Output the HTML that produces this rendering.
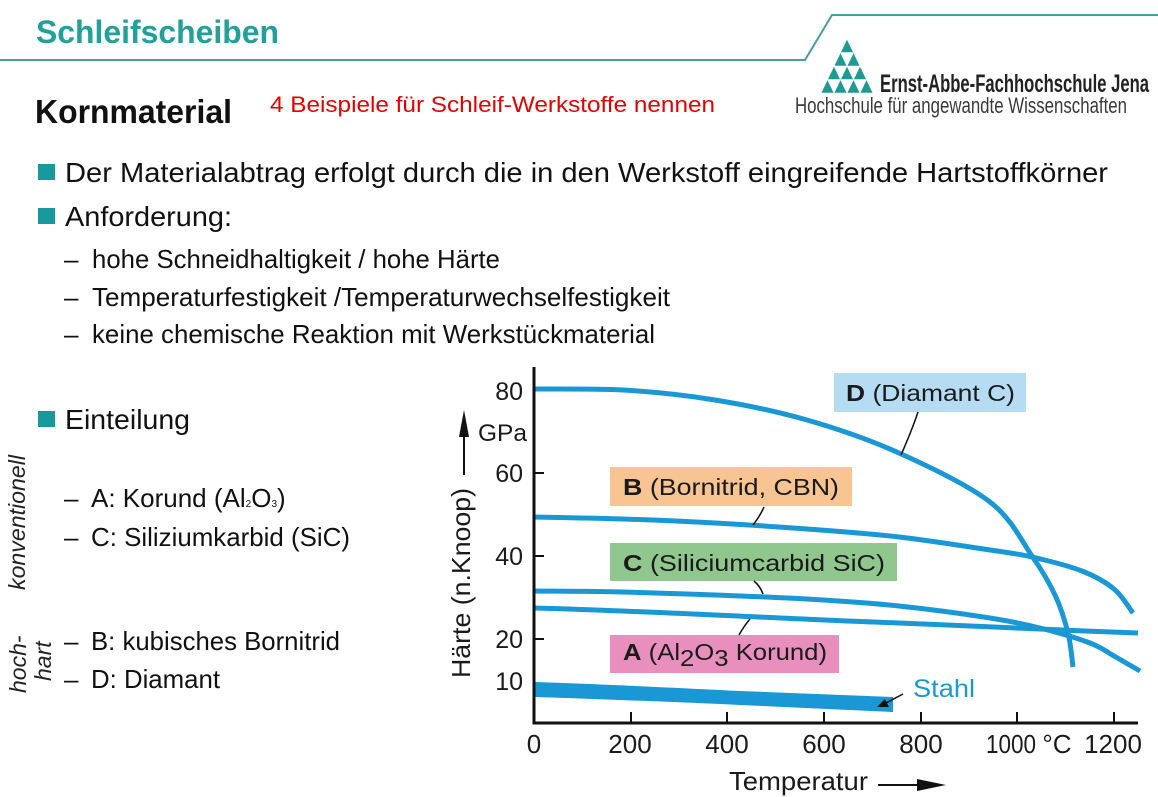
<!DOCTYPE html>
<html>
<head>
<meta charset="utf-8">
<style>
  html, body { margin: 0; padding: 0; background: #ffffff; }
  svg { display: block; }
  text { font-family: "Liberation Sans", Arial, sans-serif; }
</style>
</head>
<body>
<svg width="1158" height="797" viewBox="0 0 1158 797" xmlns="http://www.w3.org/2000/svg">
  <rect x="0" y="0" width="1158" height="797" fill="#ffffff"/>

  <!-- Header -->
  <text x="36" y="43" font-size="32" font-weight="bold" fill="#23a09a" textLength="243" lengthAdjust="spacingAndGlyphs">Schleifscheiben</text>
  <polyline points="0,60 805,60 832,15 1158,15" fill="none" stroke="#4a9e9a" stroke-width="2"/>

  <!-- Logo -->
  <g fill="#1e9a92" stroke="#ffffff" stroke-width="0.6" stroke-linejoin="miter">
    <polygon points="840.5,52.5 853.5,52.5 847,39"/>
    <polygon points="834,66 847,66 840.5,52.5"/>
    <polygon points="847,66 860,66 853.5,52.5"/>
    <polygon points="827.5,79.5 840.5,79.5 834,66"/>
    <polygon points="840.5,79.5 853.5,79.5 847,66"/>
    <polygon points="853.5,79.5 866.5,79.5 860,66"/>
    <polygon points="821,93 834,93 827.5,79.5"/>
    <polygon points="834,93 847,93 840.5,79.5"/>
    <polygon points="847,93 860,93 853.5,79.5"/>
    <polygon points="860,93 873,93 866.5,79.5"/>
  </g>
  <text x="880" y="92" font-size="25" font-weight="bold" fill="#222" textLength="269" lengthAdjust="spacingAndGlyphs">Ernst-Abbe-Fachhochschule Jena</text>
  <text x="795" y="113" font-size="22" fill="#3a3a3a" textLength="332" lengthAdjust="spacingAndGlyphs">Hochschule für angewandte Wissenschaften</text>

  <!-- Subtitle -->
  <text x="35" y="123" font-size="33" font-weight="bold" fill="#111" textLength="197" lengthAdjust="spacingAndGlyphs">Kornmaterial</text>
  <text x="270" y="112" font-size="22" fill="#e00000" textLength="445" lengthAdjust="spacingAndGlyphs">4 Beispiele für Schleif-Werkstoffe nennen</text>

  <!-- Bullets -->
  <g fill="#17989e">
    <rect x="38" y="164" width="17" height="16"/>
    <rect x="38" y="208" width="17" height="16"/>
    <rect x="38" y="411" width="17" height="16"/>
  </g>
  <g fill="#111">
    <text x="65" y="182" font-size="28" textLength="1043" lengthAdjust="spacingAndGlyphs">Der Materialabtrag erfolgt durch die in den Werkstoff eingreifende Hartstoffkörner</text>
    <text x="65" y="226" font-size="28" textLength="167" lengthAdjust="spacingAndGlyphs">Anforderung:</text>

    <text x="64" y="268" font-size="26">–</text>
    <text x="92" y="268" font-size="26" textLength="408" lengthAdjust="spacingAndGlyphs">hohe Schneidhaltigkeit / hohe Härte</text>
    <text x="64" y="306" font-size="26">–</text>
    <text x="92" y="306" font-size="26" textLength="578" lengthAdjust="spacingAndGlyphs">Temperaturfestigkeit /Temperaturwechselfestigkeit</text>
    <text x="64" y="343" font-size="26">–</text>
    <text x="92" y="343" font-size="26" textLength="563" lengthAdjust="spacingAndGlyphs">keine chemische Reaktion mit Werkstückmaterial</text>

    <text x="65" y="429" font-size="28" textLength="125" lengthAdjust="spacingAndGlyphs">Einteilung</text>

    <text x="64" y="507" font-size="26">–</text>
    <text x="91" y="507" font-size="26">A: Korund (Al<tspan font-size="10">2</tspan>O<tspan font-size="10">3</tspan>)</text>
    <text x="64" y="546" font-size="26">–</text>
    <text x="91" y="546" font-size="26" textLength="259" lengthAdjust="spacingAndGlyphs">C: Siliziumkarbid (SiC)</text>
    <text x="64" y="650" font-size="26">–</text>
    <text x="91" y="650" font-size="26" textLength="249" lengthAdjust="spacingAndGlyphs">B: kubisches Bornitrid</text>
    <text x="64" y="688" font-size="26">–</text>
    <text x="91" y="688" font-size="26" textLength="129" lengthAdjust="spacingAndGlyphs">D: Diamant</text>
  </g>

  <!-- Rotated side labels -->
  <g fill="#222" font-style="italic" font-size="23">
    <text transform="translate(25,590) rotate(-90)" textLength="135" lengthAdjust="spacingAndGlyphs">konventionell</text>
    <text transform="translate(26,693) rotate(-90)">hoch-</text>
    <text transform="translate(51,681) rotate(-90)">hart</text>
  </g>

  <!-- ===== Chart ===== -->
  <!-- label boxes -->
  <rect x="834" y="373" width="192" height="39" fill="#b5dcf2"/>
  <rect x="610" y="467" width="242" height="39" fill="#f8c492"/>
  <rect x="610" y="543" width="287" height="38" fill="#90c78e"/>
  <rect x="610" y="635" width="229" height="38" fill="#e88fbd"/>

  <!-- Stahl band -->
  <path d="M534,682 C600,684 700,689 740,691 L893,697 L893,712 L740,705 C700,703 600,699 534,697 Z" fill="#1a98d5"/>

  <!-- curves -->
  <g fill="none" stroke="#1a98d5" stroke-width="5" stroke-linejoin="round" stroke-linecap="butt">
    <!-- D -->
    <path d="M534,389 C548.8,389.2 592.8,388.6 623,390 C653.2,391.8 684.3,395 715,400 C745.7,405 776.3,411.2 807,420 C837.7,428.8 868.5,439.3 899,453 C929.5,466.7 967.8,484.8 990,502 C1012.2,519.2 1021.2,540.5 1032,556 C1042.8,571.5 1049,582.2 1055,595 C1061,607.8 1065,621 1068,633 C1071,645 1072.2,661.3 1073,667"/>
    <!-- B -->
    <path d="M534,517 C548.8,517.3 592.8,518 623,519 C653.2,520 684.3,521.3 715,523 C745.7,524.7 776.3,526.7 807,529 C837.7,531.3 868.5,533.5 899,537 C929.5,540.5 967.8,546.7 990,550 C1012.2,553.3 1016.7,553.5 1032,557 C1047.3,560.5 1068.3,565.7 1082,571 C1095.7,576.3 1105.5,582 1114,589 C1122.5,596 1129.8,609 1133,613"/>
    <!-- C -->
    <path d="M534,591 C548.8,591.2 592.8,591.3 623,592 C653.2,592.7 684.3,593.8 715,595 C745.7,596.2 776.3,597.2 807,599 C837.7,600.8 868.5,602.8 899,606 C929.5,609.2 966.5,614.3 990,618 C1013.5,621.7 1023.3,623.8 1040,628 C1056.7,632.2 1077.7,638.3 1090,643 C1102.3,647.7 1105.7,651.3 1114,656 C1122.3,660.7 1135.7,668.5 1140,671"/>
    <!-- A -->
    <path d="M534,608 C580,609 670,613 715,615 C760,617 850,621.5 899,623 C950,625 1010,628 1040,629 C1070,630.5 1110,632 1138,633"/>
  </g>

  <!-- leader lines -->
  <g fill="none" stroke="#111" stroke-width="1.5">
    <path d="M918,412 Q912,430 901,455"/>
    <path d="M764,507 Q760,516 753,525"/>
    <path d="M754,581 Q760,586 763,594"/>
    <path d="M739,635 Q744,626 750,619"/>
    <line x1="903" y1="694" x2="884" y2="704"/>
  </g>
  <polygon points="877,707 885,699 889,707" fill="#111"/>

  <!-- axes -->
  <line x1="534" y1="367" x2="534" y2="724.5" stroke="#111" stroke-width="3"/>
  <line x1="532.5" y1="723" x2="1138" y2="723" stroke="#111" stroke-width="3"/>
  <g stroke="#111" stroke-width="2">
    <line x1="535" y1="473" x2="544" y2="473"/>
    <line x1="535" y1="556" x2="544" y2="556"/>
    <line x1="535" y1="639" x2="544" y2="639"/>
    <line x1="631" y1="712" x2="631" y2="723"/>
    <line x1="727" y1="712" x2="727" y2="723"/>
    <line x1="824" y1="712" x2="824" y2="723"/>
    <line x1="921" y1="712" x2="921" y2="723"/>
    <line x1="1017" y1="712" x2="1017" y2="723"/>
    <line x1="1114" y1="712" x2="1114" y2="723"/>
  </g>

  <!-- y tick labels -->
  <g fill="#1a1a1a" font-size="25" text-anchor="end">
    <text x="523" y="400">80</text>
    <text x="523" y="482">60</text>
    <text x="523" y="565">40</text>
    <text x="523" y="648">20</text>
    <text x="523" y="690">10</text>
  </g>
  <!-- x tick labels -->
  <g fill="#1a1a1a" font-size="26" text-anchor="middle">
    <text x="534" y="753">0</text>
    <text x="630" y="753">200</text>
    <text x="727" y="753">400</text>
    <text x="824" y="753">600</text>
    <text x="921" y="753">800</text>
    <text x="1057" y="753">°C</text>
    <text x="1113" y="753">1200</text>
  </g>
  <text x="986" y="753" font-size="26" fill="#1a1a1a" textLength="50" lengthAdjust="spacingAndGlyphs">1000</text>

  <!-- axis titles -->
  <text transform="translate(470,678) rotate(-90)" font-size="26" fill="#1a1a1a" textLength="190" lengthAdjust="spacingAndGlyphs">Härte (n.Knoop)</text>
  <line x1="464" y1="475" x2="464" y2="435" stroke="#111" stroke-width="2"/>
  <polygon points="459,437 464,410 469,437" fill="#111"/>
  <text x="478" y="441" font-size="24" fill="#1a1a1a" textLength="49" lengthAdjust="spacingAndGlyphs">GPa</text>

  <text x="729" y="790" font-size="26" fill="#1a1a1a" textLength="139" lengthAdjust="spacingAndGlyphs">Temperatur</text>
  <line x1="878" y1="785" x2="922" y2="785" stroke="#111" stroke-width="2"/>
  <polygon points="917,779 946,785 917,791" fill="#111"/>

  <!-- series labels -->
  <g fill="#1a1a1a" font-size="23">
    <text x="846" y="401" textLength="169" lengthAdjust="spacingAndGlyphs"><tspan font-weight="bold">D</tspan> (Diamant C)</text>
    <text x="623" y="495" textLength="216" lengthAdjust="spacingAndGlyphs"><tspan font-weight="bold">B</tspan> (Bornitrid, CBN)</text>
    <text x="623" y="571" textLength="262" lengthAdjust="spacingAndGlyphs"><tspan font-weight="bold">C</tspan> (Siliciumcarbid SiC)</text>
    <text x="623" y="660" textLength="204" lengthAdjust="spacingAndGlyphs"><tspan font-weight="bold">A</tspan> (Al<tspan dy="6">2</tspan><tspan dy="-6">O</tspan><tspan dy="6">3</tspan><tspan dy="-6"> Korund)</tspan></text>
  </g>
  <text x="913" y="697" font-size="25" fill="#1a98d5" textLength="62" lengthAdjust="spacingAndGlyphs">Stahl</text>
</svg>
</body>
</html>
